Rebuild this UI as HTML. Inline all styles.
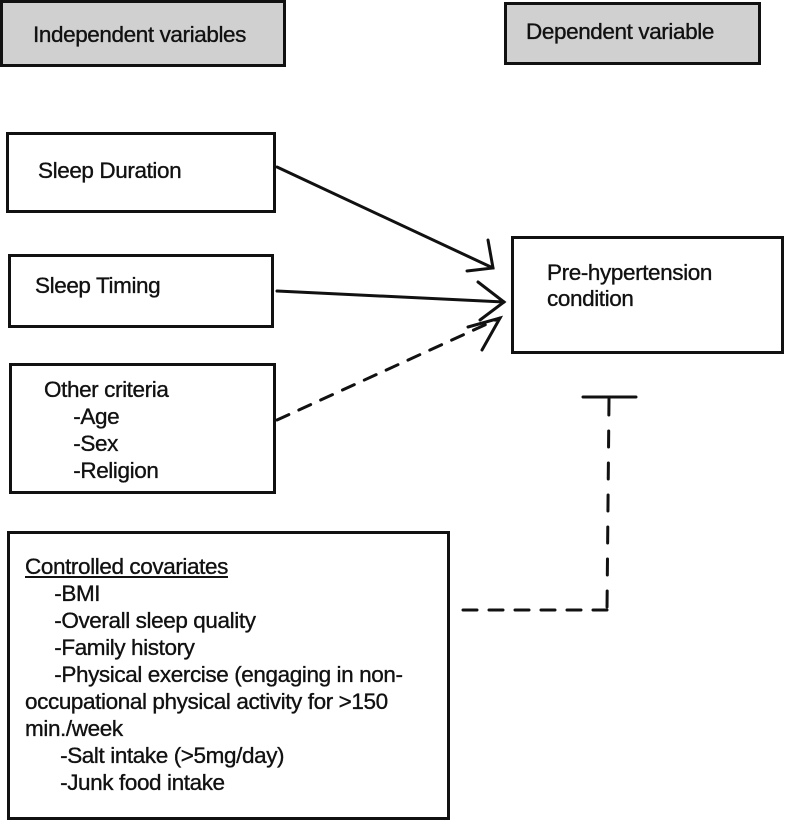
<!DOCTYPE html>
<html><head><style>
body{margin:0;width:800px;height:820px;background:#fff;position:relative;overflow:hidden;font-family:"Liberation Sans",Arial,sans-serif;color:#111}
.b{position:absolute;border:3px solid #111;box-sizing:border-box;background:#fff}
.g{background:#d0d0d0}
.t{position:absolute;font-size:22.5px;white-space:nowrap;letter-spacing:-0.4px;-webkit-text-stroke:0.35px #111}
</style></head><body>
<div class="b g" style="left:0;top:0;width:286px;height:67px"></div>
<div class="t" style="left:33px;top:22px;font-size:22.5px">Independent variables</div>
<div class="b g" style="left:504px;top:2px;width:257px;height:63px"></div>
<div class="t" style="left:526px;top:19px;font-size:22.5px">Dependent variable</div>

<div class="b" style="left:6px;top:132px;width:270px;height:81px"></div>
<div class="t" style="left:38px;top:158px">Sleep Duration</div>
<div class="b" style="left:8px;top:254px;width:266px;height:74px"></div>
<div class="t" style="left:35px;top:273px">Sleep Timing</div>
<div class="b" style="left:511px;top:236px;width:273px;height:118px"></div>
<div class="t" style="left:547px;top:260px;line-height:26px">Pre-hypertension<br>condition</div>
<div class="b" style="left:9px;top:363px;width:267px;height:131px"></div>
<div class="t" style="left:44px;top:376px;line-height:27px">Other criteria<br>&nbsp;&nbsp;&nbsp;&nbsp;&nbsp;-Age<br>&nbsp;&nbsp;&nbsp;&nbsp;&nbsp;-Sex<br>&nbsp;&nbsp;&nbsp;&nbsp;&nbsp;-Religion</div>
<div class="b" style="left:7px;top:531px;width:443px;height:289px"></div>
<div class="t" style="left:25px;top:553px;line-height:27px"><u>Controlled covariates</u><br>&nbsp;&nbsp;&nbsp;&nbsp;&nbsp;-BMI<br>&nbsp;&nbsp;&nbsp;&nbsp;&nbsp;-Overall sleep quality<br>&nbsp;&nbsp;&nbsp;&nbsp;&nbsp;-Family history<br>&nbsp;&nbsp;&nbsp;&nbsp;&nbsp;-Physical exercise (engaging in non-<br>occupational physical activity for &gt;150<br>min./week<br>&nbsp;&nbsp;&nbsp;&nbsp;&nbsp;&nbsp;-Salt intake (&gt;5mg/day)<br>&nbsp;&nbsp;&nbsp;&nbsp;&nbsp;&nbsp;-Junk food intake</div>

<svg width="800" height="820" style="position:absolute;left:0;top:0" fill="none" stroke="#111" stroke-width="3" stroke-linecap="round">
<line x1="277" y1="167" x2="493" y2="268"/>
<polyline points="488,240 493,268 467,271"/>
<line x1="277" y1="291" x2="504" y2="302"/>
<polyline points="478,282 504,302 480,320"/>
<line x1="277" y1="420" x2="500" y2="318" stroke-dasharray="13,11"/>
<polyline points="468,327 500,318 482,350"/>
<line x1="583" y1="397" x2="636" y2="397"/>
<line x1="609" y1="399" x2="607" y2="610" stroke-dasharray="16,16"/>
<line x1="607" y1="610" x2="455" y2="610" stroke-dasharray="14,12"/>
</svg>
</body></html>
